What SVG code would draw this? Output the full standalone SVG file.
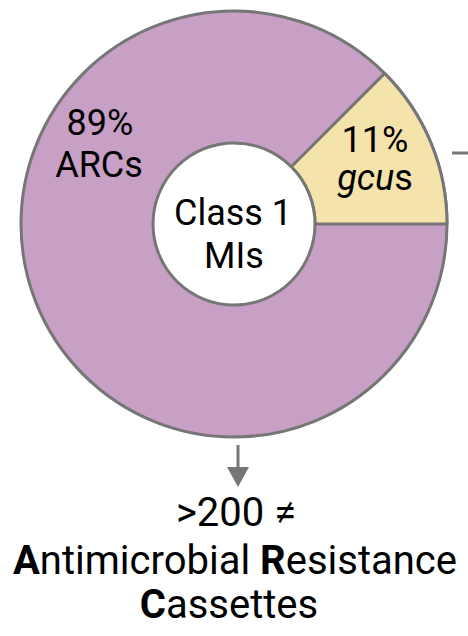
<svg xmlns="http://www.w3.org/2000/svg" width="468" height="636" viewBox="0 0 468 636">
<style>
.ln{stroke:#767676;stroke-width:3}
.t{font-family:Roboto,"Liberation Sans",sans-serif;font-size:36px;fill:#000;text-anchor:middle}
.b{font-size:40px}
</style>
<rect width="468" height="636" fill="#fff"/>
<g id="arcs">
<circle cx="234" cy="224" r="213" fill="#C8A0C6" class="ln"/>
<text class="t" x="100" y="135">89%</text>
<text class="t" x="99" y="177">ARCs</text>
</g>
<g id="gcus">
<path d="M315,224 L447,224 A213,213 0 0 0 384.6,73.4 L291.3,166.7 A81,81 0 0 1 315,224 Z" fill="#F4E4AC" class="ln" stroke-linejoin="round"/>
<text class="t" x="375" y="152">11%</text>
<text class="t" x="375" y="190" font-style="italic">gcu<tspan font-style="normal">s</tspan></text>
</g>
<g id="mi">
<circle cx="234" cy="224" r="81" fill="#fff" class="ln"/>
<text class="t" x="233" y="225">Class 1</text>
<text class="t" x="234" y="268">MIs</text>
</g>
<g id="connectors">
<line x1="238" y1="445" x2="238" y2="468" class="ln"/>
<polygon points="227,467 249,467 238,487" fill="#767676"/>
<line x1="452" y1="153" x2="468" y2="153" class="ln"/>
</g>
<g id="cassettes">
<text class="t b" x="236" y="526">&gt;200 ≠</text>
<text class="t b" x="235" y="574"><tspan font-weight="bold">A</tspan>ntimicrobial <tspan font-weight="bold">R</tspan>esistance</text>
<text class="t b" x="229" y="618"><tspan font-weight="bold">C</tspan>assettes</text>
</g>
</svg>
